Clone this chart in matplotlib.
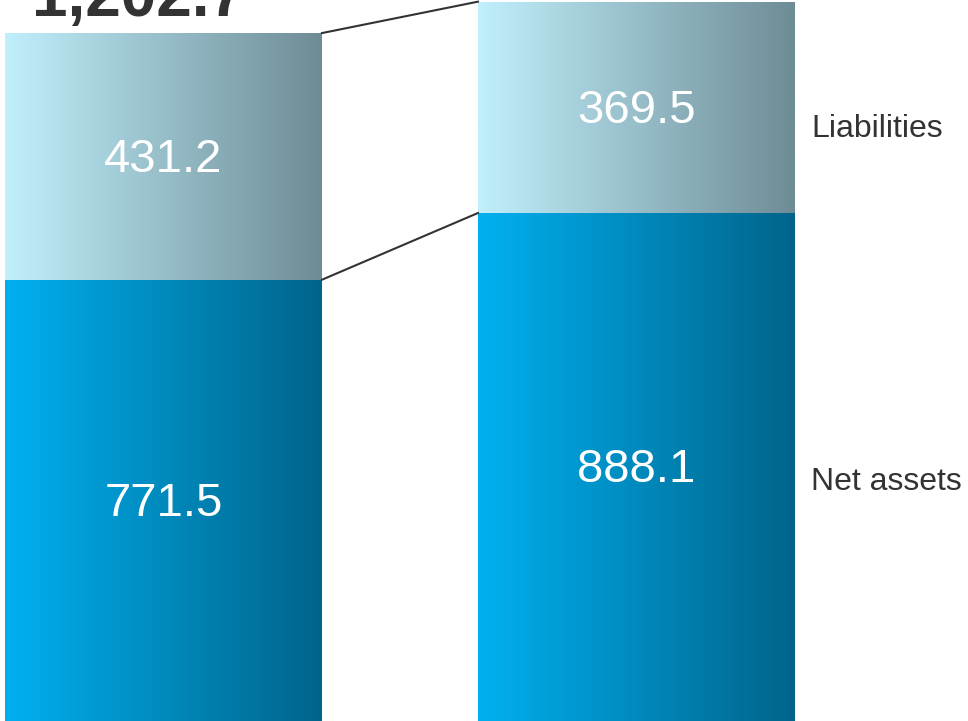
import matplotlib.pyplot as plt
import numpy as np
from matplotlib.colors import LinearSegmentedColormap

plt.rcParams['font.family'] = ['Liberation Sans', 'DejaVu Sans']

periods = ['prev', 'curr']
net_assets = [771.5, 888.1]
liabilities = [431.2, 369.5]
totals = ['1,202.7', '1,257.6']
series_names = ['Net assets', 'Liabilities']

net_cmap = LinearSegmentedColormap.from_list('net', ['#00b0f0', '#00648a'])
liab_cmap = LinearSegmentedColormap.from_list('liab', ['#c0f0fc', '#6e8c96'])

fig = plt.figure(figsize=(9.68, 7.21), dpi=100)
ax = fig.add_axes([0, 0, 1, 1])
x = np.array([0.0, 1.492])
width = 1.0
ax.set_xlim(-0.5158, 2.538)
ax.set_ylim(0, 1260.5)
ax.axis('off')

grad = np.linspace(0, 1, 256).reshape(1, -1)
b1 = ax.bar(x, net_assets, width, color='none', edgecolor='none')
b2 = ax.bar(x, liabilities, width, bottom=net_assets, color='none', edgecolor='none')
for bars, cmap in [(b1, net_cmap), (b2, liab_cmap)]:
    for r in bars:
        x0, y0 = r.get_x(), r.get_y()
        im = ax.imshow(grad, cmap=cmap, aspect='auto',
                       extent=[x0, x0 + r.get_width(), y0, y0 + r.get_height()],
                       zorder=2)
        im.set_clip_path(r)

# segment values
for i in range(2):
    ax.text(x[i], net_assets[i] / 2 - 6, f'{net_assets[i]:.1f}', color='white',
            fontsize=34, ha='center', va='center', zorder=3)
    ax.text(x[i], net_assets[i] + liabilities[i] / 2 - 6, f'{liabilities[i]:.1f}',
            color='white', fontsize=34, ha='center', va='center', zorder=3)

# connector lines
for top_l, top_r in [(net_assets[0], net_assets[1]),
                     (net_assets[0] + liabilities[0], net_assets[1] + liabilities[1])]:
    ax.plot([x[0] + width / 2, x[1] - width / 2], [top_l, top_r], color='#333333', lw=1.5, zorder=3)

# totals (largely cut off at the top)
for i in range(2):
    tot = net_assets[i] + liabilities[i]
    ax.text(x[i] - 0.08, tot + 29, totals[i], fontsize=46, fontweight='bold',
            color='#333333', ha='center', va='baseline', clip_on=False)

# series labels
ax.text(2.043, 1035, series_names[1], fontsize=23, color='#333333', va='center', ha='left')
ax.text(2.043, 418, series_names[0], fontsize=23, color='#333333', va='center', ha='left')

fig.savefig('out.png', dpi=100)
